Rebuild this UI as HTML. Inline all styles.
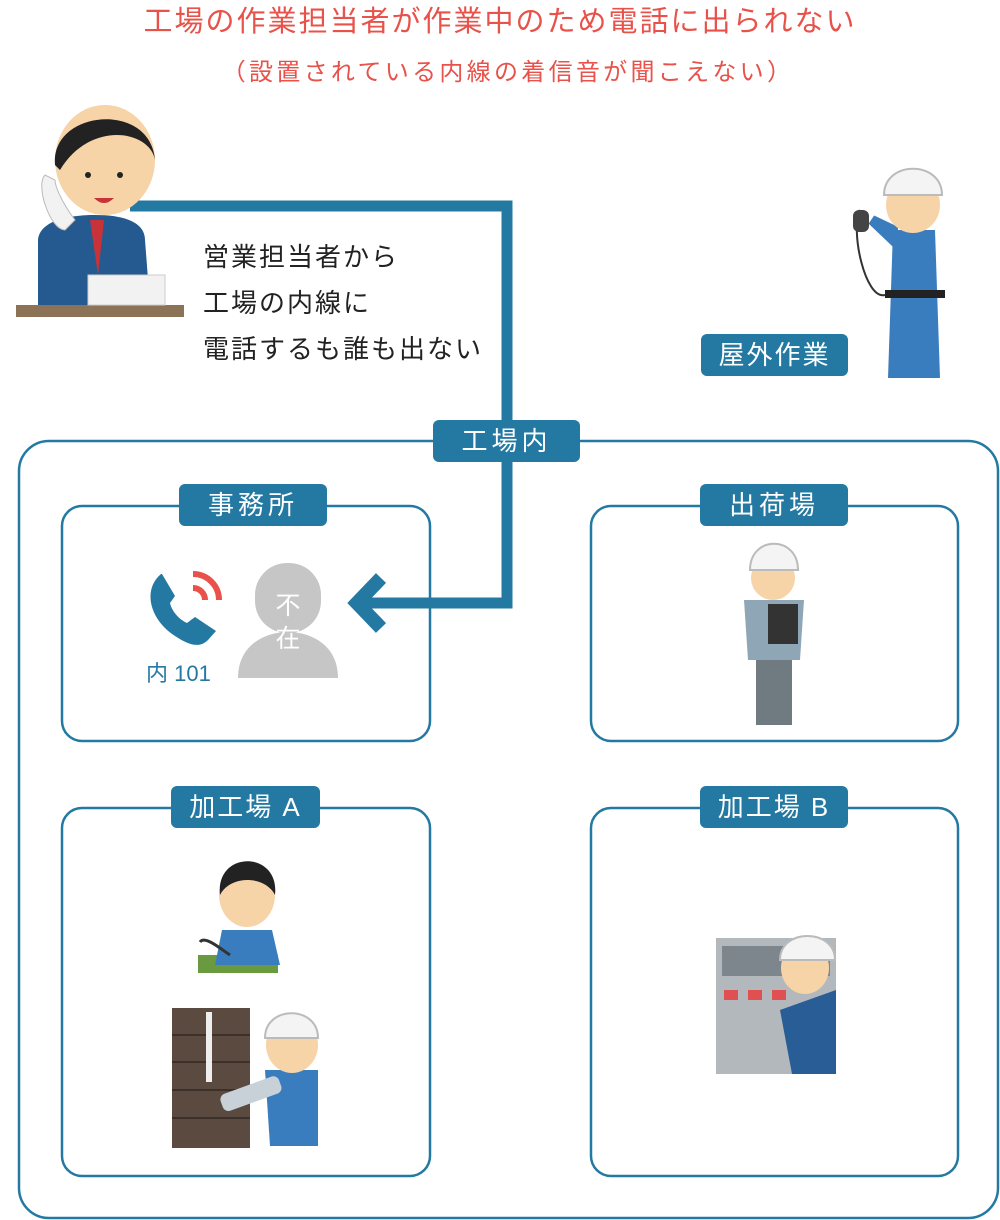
<!DOCTYPE html>
<html><head><meta charset="utf-8"><style>
html,body{margin:0;padding:0;background:#fff;}
body{width:1000px;height:1220px;position:relative;overflow:hidden;font-family:"Liberation Sans","Noto Sans CJK JP",sans-serif;}
.t{position:absolute;white-space:nowrap;}
.lab{position:absolute;background:#2479a2;color:#fff;border-radius:6px;text-align:center;font-size:26px;letter-spacing:4px;font-family:"Liberation Sans","Noto Sans CJK JP",sans-serif;}
</style></head><body>
<div class="t" style="left:0;width:1000px;text-align:center;top:-2px;font-size:29px;letter-spacing:2px;color:#e8524a;">工場の作業担当者が作業中のため電話に出られない</div>
<div class="t" style="left:8px;width:1000px;text-align:center;top:52px;font-size:24px;letter-spacing:3.3px;color:#e8524a;">（設置されている内線の着信音が聞こえない）</div>
<svg width="1000" height="1220" style="position:absolute;left:0;top:0">
<g fill="none" stroke="#2479a2" stroke-width="2.5">
<rect x="19" y="441" width="979" height="777" rx="30"/>
<rect x="62" y="506" width="368" height="235" rx="20"/>
<rect x="591" y="506" width="367" height="235" rx="20"/>
<rect x="62" y="808" width="368" height="368" rx="20"/>
<rect x="591" y="808" width="367" height="368" rx="20"/>
</g>
<polyline points="130,206 507,206 507,603 362,603" fill="none" stroke="#2479a2" stroke-width="11"/>
<polyline points="381,578 357,603 381,628" fill="none" stroke="#2479a2" stroke-width="14"/>
<path d="M161,574 C142,590 150,620 175,636 C190,646 200,648 208,640 L216,631 L195,617 L187,623 C180,620 172,612 170,603 L175,596 L162,574 Z" fill="#2479a2"/>
<path d="M193,588 a12,12 0 0 1 12,12 M193,574 a26,26 0 0 1 26,26" fill="none" stroke="#e8524a" stroke-width="6"/>
<rect x="255" y="563" width="66" height="70" rx="32" fill="#c6c6c6"/>
<path d="M238,678 C238,645 265,632 288,632 C311,632 338,645 338,678 Z" fill="#c6c6c6"/>
<rect x="16" y="305" width="168" height="12" fill="#8c7358"/>
<path d="M38,305 L38,240 C40,220 70,215 95,215 C130,215 145,225 145,240 L150,305 Z" fill="#245a8f"/>
<path d="M90,220 L98,275 L104,220 Z" fill="#c8333a"/>
<ellipse cx="105" cy="160" rx="50" ry="55" fill="#f7d3a8"/>
<path d="M55,165 C50,110 150,100 155,160 C150,130 90,120 60,170 Z" fill="#222"/>
<rect x="88" y="275" width="77" height="30" fill="#f2f2f2" stroke="#ccc"/>
<path d="M45,175 C35,185 50,230 65,230 L75,220 C60,200 55,185 55,180 Z" fill="#f2f2f2" stroke="#bbb"/>
<circle cx="88" cy="175" r="3" fill="#222"/><circle cx="120" cy="175" r="3" fill="#222"/>
<path d="M94,198 q10,10 20,0 z" fill="#c8333a"/>
<path d="M893,230 L888,378 L940,378 L935,230 Z" fill="#3a7dbf"/>
<path d="M872,220 L893,240 L893,230 Z" fill="#3a7dbf" stroke="#3a7dbf" stroke-width="10"/>
<rect x="885" y="290" width="60" height="8" fill="#222"/>
<ellipse cx="913" cy="205" rx="27" ry="28" fill="#f7d3a8"/>
<path d="M884,195 C884,160 942,160 942,195 Z" fill="#f4f4f4" stroke="#bbb" stroke-width="2"/>
<path d="M860,210 C850,230 865,300 885,295" fill="none" stroke="#333" stroke-width="2"/>
<rect x="853" y="210" width="16" height="22" rx="6" fill="#444"/>
<rect x="756" y="640" width="36" height="85" fill="#6f7b80"/>
<path d="M744,600 L804,600 L800,660 L748,660 Z" fill="#8fa6b7"/>
<rect x="768" y="604" width="30" height="40" fill="#333"/>
<ellipse cx="773" cy="578" rx="22" ry="22" fill="#f7d3a8"/>
<path d="M750,570 C750,535 798,535 798,570 Z" fill="#f4f4f4" stroke="#bbb" stroke-width="2"/>
<rect x="198" y="955" width="80" height="18" fill="#6a9a3f"/>
<path d="M222,930 L272,930 L280,965 L215,965 Z" fill="#3a7dbf"/>
<ellipse cx="247" cy="895" rx="28" ry="32" fill="#f7d3a8"/>
<path d="M220,895 C215,850 280,850 275,895 C265,875 230,875 220,895 Z" fill="#222"/>
<path d="M200,942 C205,935 222,950 230,955" fill="none" stroke="#333" stroke-width="3"/>
<rect x="172" y="1008" width="78" height="140" fill="#5b4a40"/>
<g stroke="#3b302a" stroke-width="2"><line x1="172" y1="1035" x2="250" y2="1035"/><line x1="172" y1="1062" x2="250" y2="1062"/><line x1="172" y1="1090" x2="250" y2="1090"/><line x1="172" y1="1118" x2="250" y2="1118"/></g>
<rect x="206" y="1012" width="6" height="70" fill="#eee"/>
<path d="M265,1070 L318,1070 L318,1146 L270,1146 Z" fill="#3a7dbf"/>
<ellipse cx="292" cy="1045" rx="26" ry="28" fill="#f7d3a8"/>
<path d="M265,1038 C265,1005 318,1005 318,1038 Z" fill="#f4f4f4" stroke="#bbb" stroke-width="2"/>
<rect x="220" y="1085" width="62" height="18" rx="6" fill="#c9d1d8" transform="rotate(-20 250 1094)"/>
<rect x="716" y="938" width="120" height="136" fill="#b3b8bc"/>
<rect x="722" y="946" width="108" height="30" fill="#7d868d"/>
<rect x="724" y="990" width="14" height="10" fill="#e05050"/><rect x="748" y="990" width="14" height="10" fill="#e05050"/><rect x="772" y="990" width="14" height="10" fill="#e05050"/>
<path d="M780,1010 L836,990 L836,1074 L792,1074 Z" fill="#285d96"/>
<ellipse cx="805" cy="968" rx="24" ry="26" fill="#f7d3a8"/>
<path d="M780,960 C780,928 835,928 835,960 Z" fill="#f4f4f4" stroke="#bbb" stroke-width="2"/>
</svg>
<div class="t" style="left:266px;top:590px;font-size:25px;color:#fff;line-height:33px;text-align:center;width:44px;">不<br>在</div>
<div class="t" style="left:146px;top:656px;font-size:22px;color:#2479a2;">内 101</div>
<div class="t" style="left:203px;top:234px;font-size:26px;letter-spacing:2px;color:#222;line-height:46px;">営業担当者から<br>工場の内線に<br>電話するも誰も出ない</div>
<div class="lab" style="left:433px;top:420px;width:147px;height:42px;line-height:42px;">工場内</div>
<div class="lab" style="left:179px;top:484px;width:148px;height:42px;line-height:42px;">事務所</div>
<div class="lab" style="left:700px;top:484px;width:148px;height:42px;line-height:42px;">出荷場</div>
<div class="lab" style="left:171px;top:786px;width:149px;height:42px;line-height:42px;letter-spacing:2px;">加工場 A</div>
<div class="lab" style="left:700px;top:786px;width:148px;height:42px;line-height:42px;letter-spacing:2px;">加工場 B</div>
<div class="lab" style="left:701px;top:334px;width:147px;height:42px;line-height:42px;letter-spacing:2px;">屋外作業</div>
</body></html>
